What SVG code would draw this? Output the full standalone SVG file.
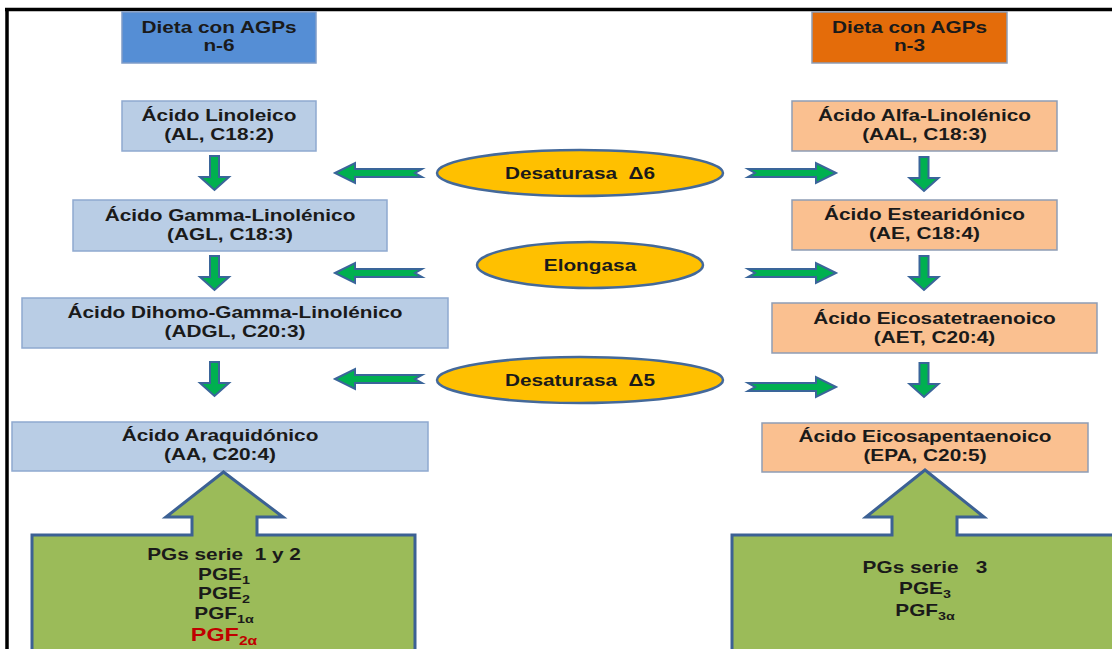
<svg xmlns="http://www.w3.org/2000/svg" width="1112" height="649" viewBox="0 0 1112 649">
<defs>
<style>
 text { font-family: "Liberation Sans", Arial, sans-serif; font-weight: bold; font-size: 16px; fill: #1a1a1a; text-anchor: middle; white-space: pre; }
 .hd6 { fill: #558ED5; stroke: #7F9CC8; stroke-width: 1.5; }
 .hd3 { fill: #E46C0A; stroke: #8E9DB5; stroke-width: 1.5; }
 .n6 { fill: #B9CDE5; stroke: #8FA9CF; stroke-width: 1.5; }
 .n3 { fill: #FAC090; stroke: #8E9DB5; stroke-width: 1.5; }
 .arr { fill: #00B050; stroke: #3A659A; stroke-width: 2; }
 .enz { fill: #FFC000; stroke: #44699A; stroke-width: 2.5; }
 .pg { fill: #9BBB59; stroke: #3C6194; stroke-width: 3; }
 .sub { font-size: 11px; }
 .red { fill: #C00000; font-size: 18px; }
 .red .sub { font-size: 12px; }
</style>
<path id="down" d="M-4.5,0 H4.5 V21 H14.5 L0,34 L-14.5,21 H-4.5 Z"/>
<path id="left" d="M0,0 L20,-10 V-4 H87 L80,0 L87,4 H20 V10 Z"/>
<path id="right" d="M0,0 L-20,-10 V-4 H-88 L-81,0 L-88,4 H-20 V10 Z"/>
</defs>
<rect width="1112" height="649" fill="#fff"/>
<path d="M5,9.5 H1112 M7,8 V649" stroke="#000" stroke-width="3.5" fill="none"/>

<g id="connectors">
 <use href="#down" class="arr" transform="translate(214.5,156)"/>
 <use href="#down" class="arr" transform="translate(214.5,256)"/>
 <use href="#down" class="arr" transform="translate(214.5,362)"/>
 <use href="#down" class="arr" transform="translate(924,157)"/>
 <use href="#down" class="arr" transform="translate(924,256)"/>
 <use href="#down" class="arr" transform="translate(924,363)"/>
 <use href="#left" class="arr" transform="translate(335,173)"/>
 <use href="#left" class="arr" transform="translate(335,273)"/>
 <use href="#left" class="arr" transform="translate(335,379)"/>
 <use href="#right" class="arr" transform="translate(836,173)"/>
 <use href="#right" class="arr" transform="translate(836,273)"/>
 <use href="#right" class="arr" transform="translate(836,387)"/>
</g>

<g id="dieta-n6">
 <rect class="hd6" x="122" y="12" width="194" height="51"/>
 <text transform="translate(219,33) scale(1.3,1)"><tspan x="0" y="0">Dieta con AGPs</tspan><tspan x="0" y="18">n-6</tspan></text>
</g>
<g id="dieta-n3">
 <rect class="hd3" x="812" y="12" width="195" height="51"/>
 <text transform="translate(909.5,33) scale(1.3,1)"><tspan x="0" y="0">Dieta con AGPs</tspan><tspan x="0" y="18">n-3</tspan></text>
</g>

<g id="al">
 <rect class="n6" x="122" y="101" width="194" height="50"/>
 <text transform="translate(219,121) scale(1.3,1)"><tspan x="0" y="0">Ácido Linoleico</tspan><tspan x="0" y="19">(AL, C18:2)</tspan></text>
</g>
<g id="agl">
 <rect class="n6" x="73" y="200" width="314" height="51"/>
 <text transform="translate(230,221) scale(1.3,1)"><tspan x="0" y="0">Ácido Gamma-Linolénico</tspan><tspan x="0" y="19">(AGL, C18:3)</tspan></text>
</g>
<g id="adgl">
 <rect class="n6" x="22" y="298" width="426" height="50"/>
 <text transform="translate(235,318) scale(1.3,1)"><tspan x="0" y="0">Ácido Dihomo-Gamma-Linolénico</tspan><tspan x="0" y="19">(ADGL, C20:3)</tspan></text>
</g>
<g id="aa">
 <rect class="n6" x="12" y="422" width="416" height="49"/>
 <text transform="translate(220,441) scale(1.3,1)"><tspan x="0" y="0">Ácido Araquidónico</tspan><tspan x="0" y="19">(AA, C20:4)</tspan></text>
</g>

<g id="aal">
 <rect class="n3" x="792" y="101" width="265" height="50"/>
 <text transform="translate(924.5,121) scale(1.3,1)"><tspan x="0" y="0">Ácido Alfa-Linolénico</tspan><tspan x="0" y="19">(AAL, C18:3)</tspan></text>
</g>
<g id="ae">
 <rect class="n3" x="792" y="200" width="265" height="50"/>
 <text transform="translate(924.5,220) scale(1.3,1)"><tspan x="0" y="0">Ácido Estearidónico</tspan><tspan x="0" y="19">(AE, C18:4)</tspan></text>
</g>
<g id="aet">
 <rect class="n3" x="772" y="303" width="325" height="50"/>
 <text transform="translate(934.5,324) scale(1.3,1)"><tspan x="0" y="0">Ácido Eicosatetraenoico</tspan><tspan x="0" y="19">(AET, C20:4)</tspan></text>
</g>
<g id="epa">
 <rect class="n3" x="762" y="423" width="326" height="49"/>
 <text transform="translate(925,442) scale(1.3,1)"><tspan x="0" y="0">Ácido Eicosapentaenoico</tspan><tspan x="0" y="19">(EPA, C20:5)</tspan></text>
</g>

<g id="desaturasa6">
 <ellipse class="enz" cx="580" cy="173" rx="143" ry="23"/>
 <text transform="translate(580,179) scale(1.3,1)">Desaturasa  Δ6</text>
</g>
<g id="elongasa">
 <ellipse class="enz" cx="590" cy="265" rx="113" ry="23"/>
 <text transform="translate(590,271) scale(1.3,1)">Elongasa</text>
</g>
<g id="desaturasa5">
 <ellipse class="enz" cx="580" cy="380" rx="143" ry="23"/>
 <text transform="translate(580,386) scale(1.3,1)">Desaturasa  Δ5</text>
</g>

<g id="pgs-12">
 <path class="pg" d="M32,535 H192 V517 H166 L223.5,472 L283,517 H257 V535 H415 V652 H32 Z"/>
 <text transform="translate(224,560) scale(1.3,1)">PGs serie  1 y 2</text>
 <text transform="translate(224,580) scale(1.3,1)">PGE<tspan class="sub" dy="4">1</tspan></text>
 <text transform="translate(224,599) scale(1.3,1)">PGE<tspan class="sub" dy="4">2</tspan></text>
 <text transform="translate(224,619) scale(1.3,1)">PGF<tspan class="sub" dy="4">1α</tspan></text>
 <text class="red" transform="translate(224,641) scale(1.3,1)">PGF<tspan class="sub" dy="4">2α</tspan></text>
</g>
<g id="pgs-3">
 <path class="pg" d="M732,535 H892 V517 H866 L925,470 L984,517 H957 V535 H1115 V652 H732 Z"/>
 <text transform="translate(925,573) scale(1.3,1)">PGs serie   3</text>
 <text transform="translate(925,594) scale(1.3,1)">PGE<tspan class="sub" dy="4">3</tspan></text>
 <text transform="translate(925,616) scale(1.3,1)">PGF<tspan class="sub" dy="4">3α</tspan></text>
</g>
</svg>
